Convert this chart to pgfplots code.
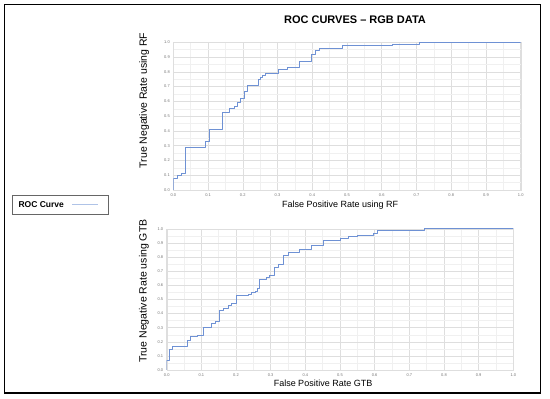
\documentclass[border=0pt]{standalone}
\usepackage{pgfplots}
\pgfplotsset{compat=1.18}
\usepackage{fontspec}
\setmainfont{Liberation Sans}
\definecolor{roc}{RGB}{110,145,212}
\definecolor{gmaj}{RGB}{222,222,222}
\definecolor{gmin}{RGB}{240,240,240}
\definecolor{tk}{RGB}{115,115,115}
\pgfplotsset{
  rocax/.style={
    scale only axis,
    xmin=0,xmax=1,ymin=0,ymax=1,
    xtick={0,0.1,...,1.0}, ytick={0,0.1,...,1.0},
    minor xtick={0.05,0.15,...,0.95}, minor ytick={0.05,0.15,...,0.95},
    grid=both,
    major grid style={gmaj,line width=0.5pt},
    minor grid style={gmin,line width=0.4pt},
    axis line style={gmaj},
    tick style={draw=none},
    ticklabel style={font=\fontsize{4}{5}\selectfont, text=tk},
    /pgf/number format/fixed, /pgf/number format/fixed zerofill,
    /pgf/number format/precision=1,
    /pgf/number format/assume math mode=true,
    xlabel style={font=\fontsize{9}{10}\selectfont, anchor=center},
    ylabel style={font=\fontsize{10.5}{12}\selectfont, anchor=center},
  }
}
\begin{document}
\begin{tikzpicture}
\path (0pt,0pt) rectangle (550pt,399pt);
\draw[line width=1.6pt] (4.5pt,394.5pt) rectangle (540.5pt,6pt);
\node[font=\bfseries\fontsize{11}{13}\selectfont] at (355pt,379pt) {ROC CURVES -- RGB DATA};
% legend
\draw[gray!80!black,line width=0.6pt] (12pt,204pt) rectangle (108pt,185pt);
\node[font=\bfseries\fontsize{8.5}{10}\selectfont, anchor=west] at (15pt,194.5pt) {ROC Curve};
\draw[roc!55,line width=0.9pt] (72pt,194.5pt) -- (98pt,194.5pt);

\begin{axis}[rocax, at={(173.3pt,209pt)}, anchor=south west, width=347.4pt, height=147.7pt,
  xlabel={False Positive Rate using RF}, ylabel={True Negative Rate using RF},
  xlabel style={at={(axis description cs:0.48,-0.10)}},
  ylabel style={at={(axis description cs:-0.084,0.606)}}]
\addplot[const plot, draw=roc, line width=1pt, line join=round, line cap=round] coordinates {
(0,0) (0,0.08) (0.012,0.10) (0.023,0.115) (0.036,0.285) (0.093,0.328) (0.105,0.408)
(0.141,0.527) (0.162,0.55) (0.175,0.567) (0.186,0.59) (0.194,0.617) (0.204,0.667)
(0.214,0.71) (0.245,0.745) (0.252,0.763) (0.258,0.776) (0.266,0.79) (0.303,0.817)
(0.33,0.83) (0.362,0.87) (0.398,0.92) (0.41,0.945) (0.422,0.96) (0.487,0.975)
(0.63,0.986) (0.71,1.0) (1,1)
};
\end{axis}

\begin{axis}[rocax, at={(166.7pt,29pt)}, anchor=south west, width=346.6pt, height=141pt,
  xlabel={False Positive Rate GTB}, ylabel={True Negative Rate using GTB},
  xlabel style={at={(axis description cs:0.451,-0.092)}},
  ylabel style={at={(axis description cs:-0.0655,0.56)}}]
\addplot[const plot, draw=roc, line width=1pt, line join=round, line cap=round] coordinates {
(0,0) (0,0.07) (0.007,0.142) (0.018,0.168) (0.06,0.206) (0.069,0.235) (0.088,0.246)
(0.106,0.30) (0.13,0.327) (0.14,0.346) (0.152,0.42) (0.165,0.434) (0.177,0.455)
(0.187,0.474) (0.2,0.526) (0.235,0.536) (0.245,0.548) (0.255,0.56) (0.263,0.578)
(0.267,0.645) (0.287,0.655) (0.298,0.668) (0.31,0.725) (0.323,0.75) (0.337,0.815)
(0.35,0.83) (0.383,0.853) (0.419,0.886) (0.452,0.92) (0.5,0.932) (0.525,0.946)
(0.55,0.957) (0.596,0.969) (0.608,0.986) (0.745,1.0) (1,1)
};
\end{axis}
\end{tikzpicture}
\end{document}
